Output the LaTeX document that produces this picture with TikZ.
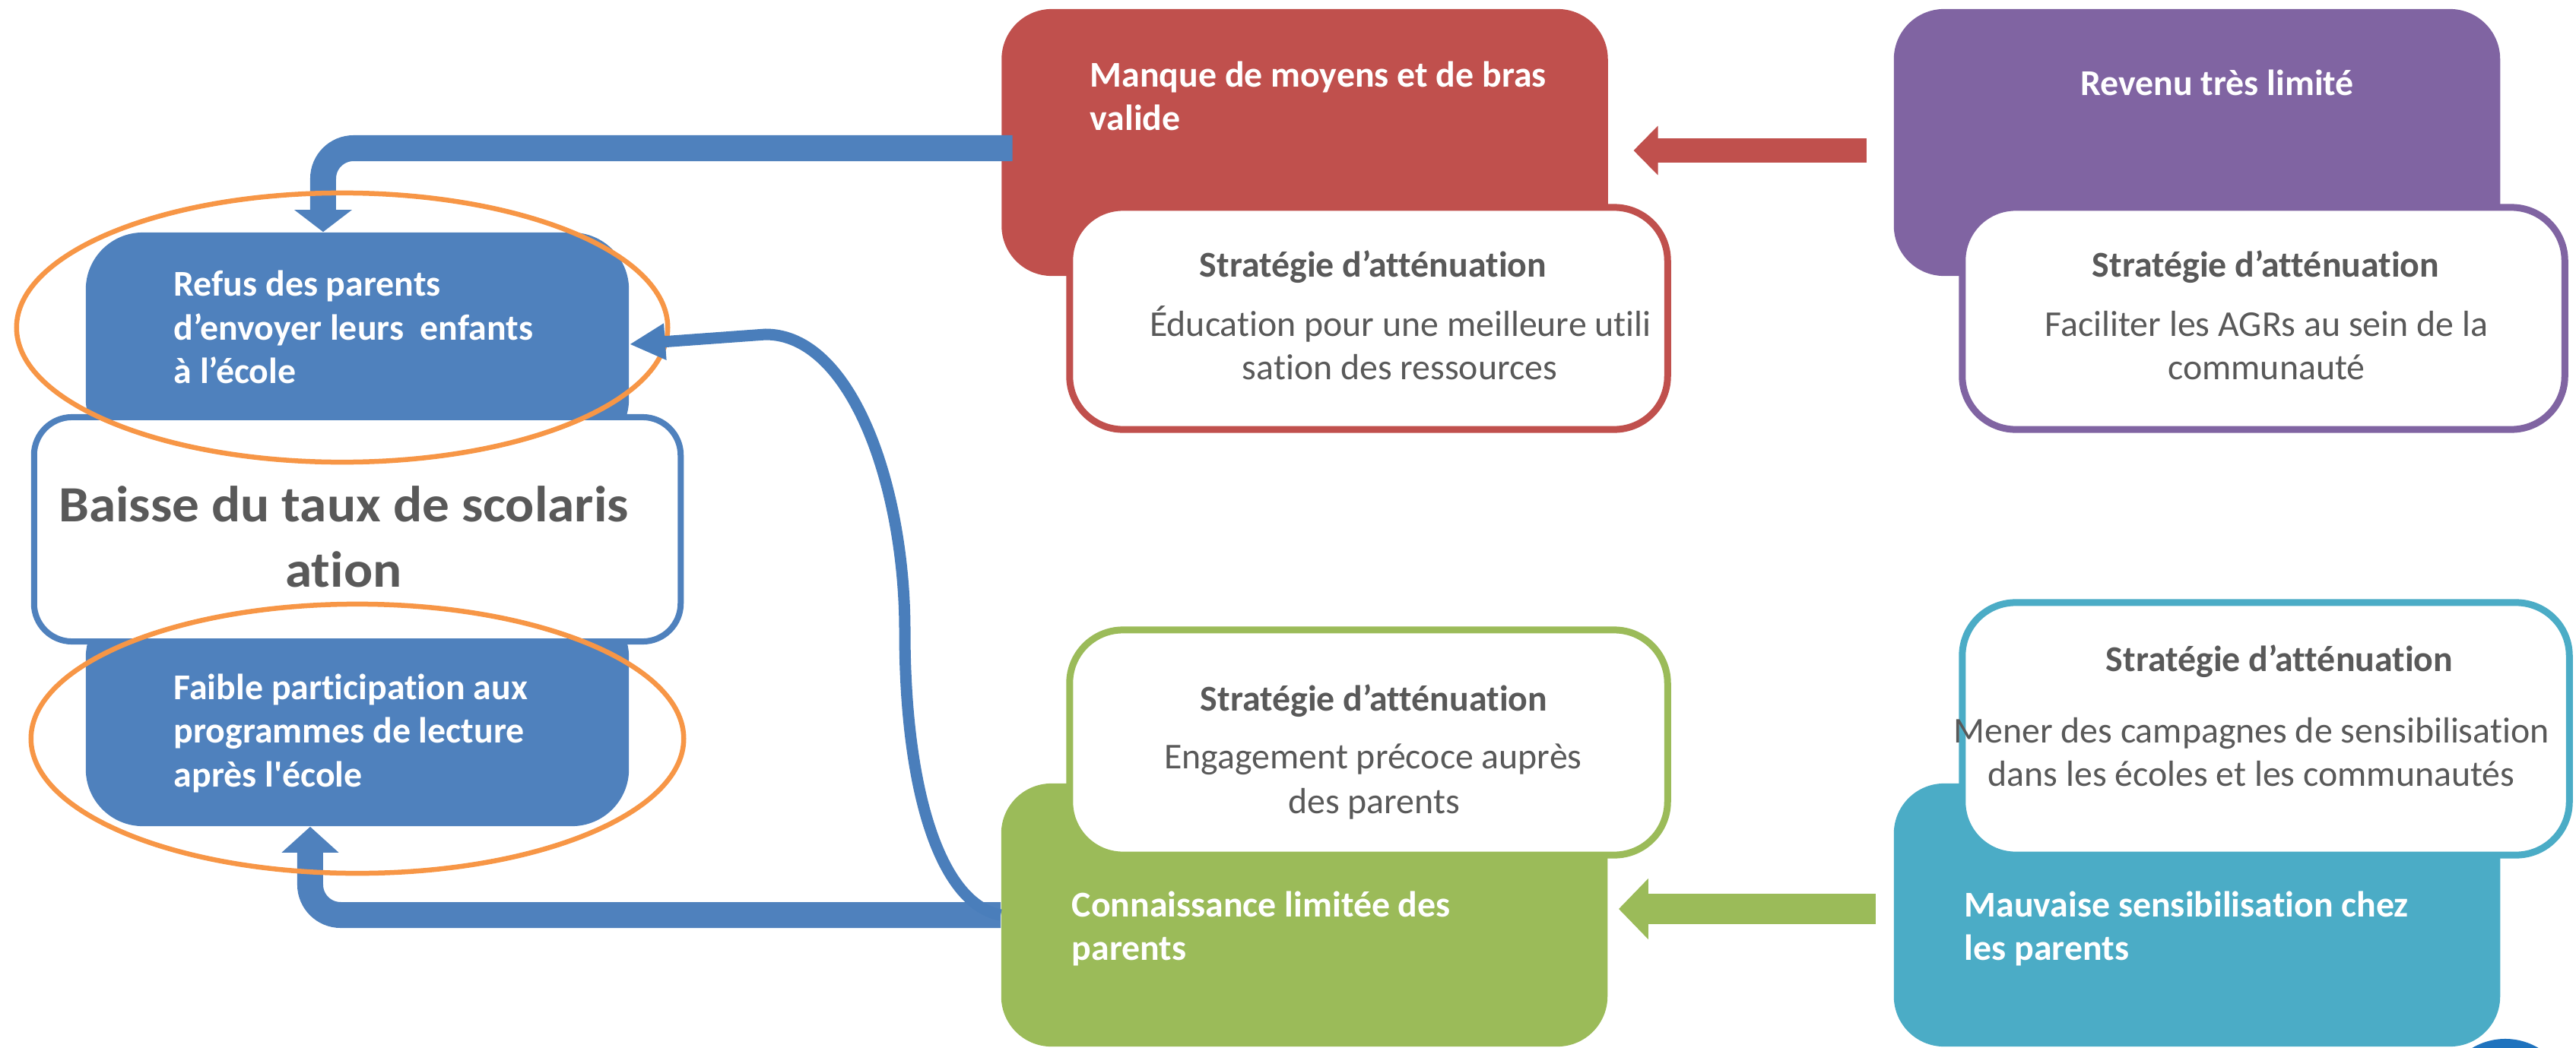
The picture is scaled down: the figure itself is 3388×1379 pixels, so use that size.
\documentclass[tikz,border=0pt]{standalone}
\usepackage{fontspec}
\setmainfont{Carlito}[Ligatures={TeX,NoCommon}]
\newfontfamily\widefont{Carlito}[FakeStretch=1.065, Ligatures={TeX,NoCommon}]
\usetikzlibrary{arrows.meta}
\definecolor{cblue}{HTML}{4F81BD}
\definecolor{cred}{HTML}{C0504D}
\definecolor{cpurple}{HTML}{8064A2}
\definecolor{cgreen}{HTML}{9BBB59}
\definecolor{ccyan}{HTML}{4BACC6}
\definecolor{corange}{HTML}{F79646}
\definecolor{cgray}{HTML}{595959}
\definecolor{cdark}{HTML}{1F73BE}
\definecolor{ccurve}{HTML}{4A7EBB}
\begin{document}
\begin{tikzpicture}[x=0.01cm,y=-0.01cm,
  mainbox/.style={rectangle, inner sep=0, rounded corners=0.66cm, minimum width=7.97cm, minimum height=3.51cm},
  stratbox/.style={rectangle, inner sep=0, rounded corners=0.7cm, fill=white, line width=0.09cm},
  bluebox/.style={rectangle, inner sep=0, rounded corners=0.75cm, fill=cblue, minimum width=7.14cm},
  fat/.style={line width=0.34cm, cblue, rounded corners=0.4cm},
  ring/.style={corange, line width=0.065cm},
  tw/.style={inner sep=0, text=white, font=\fontsize{13.6}{16}\selectfont\bfseries},
  ts/.style={inner sep=0, text=cgray, font=\fontsize{13.6}{16}\selectfont\bfseries},
  td/.style={inner sep=0, text=cgray, font=\fontsize{13.6}{16}\selectfont},
  tm/.style={inner sep=0, text=cgray, font=\widefont\fontsize{19}{23}\selectfont\bfseries}]
\useasboundingbox (0,0) rectangle (3388,1379);
% decorative disc at bottom right
\fill[cdark] (3295,1452) circle [radius=0.85cm];
% main coloured boxes
\node[mainbox, fill=cred] (red) at (1716,187.5) {};
\node[mainbox, fill=cpurple] (purple) at (2889.5,187.5) {};
\node[mainbox, fill=cgreen, minimum height=3.46cm] (green) at (1715.5,1204) {};
\node[mainbox, fill=ccyan, minimum height=3.46cm] (cyan) at (2889.5,1204) {};
% strategy boxes
\node[stratbox, draw=cred, minimum width=7.86cm, minimum height=2.92cm] (redS) at (1800,419) {};
\node[stratbox, draw=cpurple, minimum width=7.92cm, minimum height=2.92cm] (purpleS) at (2977,419) {};
\node[stratbox, draw=cgreen, minimum width=7.86cm, minimum height=2.96cm] (greenS) at (1800,977) {};
\node[stratbox, draw=ccyan, minimum width=7.98cm, minimum height=3.32cm] (cyanS) at (2980,959) {};
% left column
\node[bluebox, minimum height=2.94cm] (refus) at (470,453) {};
\node[bluebox, minimum height=2.97cm] (faible) at (470,938.5) {};
\node[rectangle, inner sep=0, rounded corners=0.5cm, fill=white, draw=cblue, line width=0.08cm, minimum width=8.5cm, minimum height=2.95cm] (baisse) at (470,696.5) {};
% connectors
\draw[fat, -{Triangle[length=0.29cm, width=0.74cm]}] ([xshift=0.15cm, yshift=-0.075cm]red.west) -| ([xshift=-0.45cm]refus.north);
\draw[fat, -{Triangle[length=0.34cm, width=0.73cm]}] (green.west) -| ([xshift=-0.62cm]faible.south);
\draw[line width=0.32cm, cred, -{Triangle[length=0.32cm, width=0.63cm]}] ([xshift=-0.35cm, yshift=-0.105cm]purple.west) -- ([xshift=0.33cm, yshift=-0.105cm]red.east);
\draw[line width=0.39cm, cgreen, -{Triangle[length=0.39cm, width=0.78cm]}] ([xshift=-0.23cm, yshift=0.08cm]cyan.west) -- ([xshift=0.14cm, yshift=0.08cm]green.east);
% orange rings
\draw[ring] (450,431) ellipse [x radius=4.28cm, y radius=1.77cm];
\draw[ring] (470,972) ellipse [x radius=4.29cm, y radius=1.77cm];
% curved connector
\draw[ccurve, line width=0.15cm, -{Triangle[length=0.47cm, width=0.45cm]}] (green.west) .. controls (1240,1190) and (1190,1050) .. (1190,830) .. controls (1190,640) and (1120,440) .. (1007,440) -- (refus.east);
% texts left
\node[tw, anchor=base west] (r1) at (228,389) {Refus des parents};
\node[tw, anchor=base west] (r2) at (228,447) {d’envoyer leurs~ enfants};
\node[tw, anchor=base west] (r3) at (228,504) {à l’école};
\node[tm, anchor=base] (b1) at (452,686) {Baisse du taux de scolaris};
\node[tm, anchor=base] (b2) at (452,772) {ation};
\node[tw, anchor=base west] (f1) at (228,920) {Faible participation aux};
\node[tw, anchor=base west] (f2) at (228,977) {programmes de lecture};
\node[tw, anchor=base west] (f3) at (228,1035) {après l\textquotesingle école};
% red
\node[tw, anchor=base west] (m1) at (1433,115) {Manque de moyens et de bras};
\node[tw, anchor=base west] (m2) at (1433,172) {valide};
\node[ts, anchor=base] (rs) at (1806,364) {Stratégie d’atténuation};
\node[td, anchor=base] (rd1) at (1842,442) {Éducation pour une meilleure utili};
\node[td, anchor=base] (rd2) at (1841,499) {sation des ressources};
% purple
\node[tw, anchor=base] (p1) at (2916,126) {Revenu très limité};
\node[ts, anchor=base] (ps) at (2980,364) {Stratégie d’atténuation};
\node[td, anchor=base] (pd1) at (2981,442) {Faciliter les AGRs au sein de la};
\node[td, anchor=base] (pd2) at (2981,499) {communauté};
% green
\node[ts, anchor=base] (gs) at (1807,935) {Stratégie d’atténuation};
\node[td, anchor=base] (gd1) at (1806,1011) {Engagement précoce auprès};
\node[td, anchor=base] (gd2) at (1807,1070) {des parents};
\node[tw, anchor=base west] (g1) at (1409,1206) {Connaissance limitée des};
\node[tw, anchor=base west] (g2) at (1409,1263) {parents};
% cyan
\node[ts, anchor=base] (cs) at (2998,883) {Stratégie d’atténuation};
\node[td, anchor=base] (cd1) at (2961,977) {Mener des campagnes de sensibilisation};
\node[td, anchor=base] (cd2) at (2961,1034) {dans les écoles et les communautés};
\node[tw, anchor=base west] (c1) at (2583,1206) {Mauvaise sensibilisation chez};
\node[tw, anchor=base west] (c2) at (2583,1263) {les parents};
\end{tikzpicture}
\end{document}
